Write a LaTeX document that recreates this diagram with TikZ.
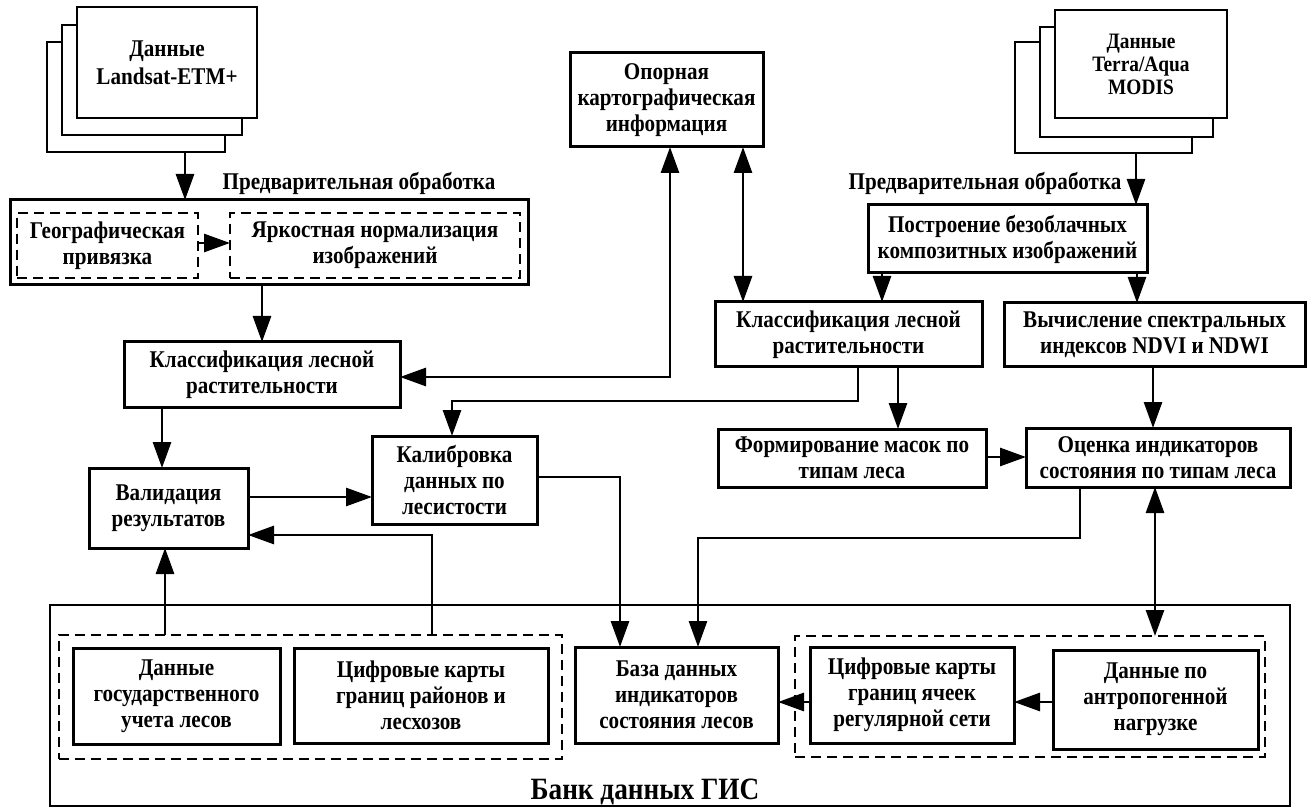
\documentclass[tikz,border=0pt]{standalone}
\usepackage{fontspec}
\setmainfont{Liberation Serif}[FakeStretch=0.88]
\usetikzlibrary{arrows.meta}
\newcommand\mkbox[7][box]{\node[#1, minimum width={#5-#3}, minimum height={#6-#4}] (#2) at ({(#3+#5)/2},{(#4+#6)/2}) {#7};}
\begin{document}
\begin{tikzpicture}[x=1pt,y=-1pt,
  box/.style={draw, line width=3pt, fill=white, inner sep=0pt, outer sep=0pt, align=center,
    font=\bfseries\fontsize{24}{26}\selectfont},
  dbox/.style={box, line width=2.8pt, dash pattern=on 10pt off 6pt, fill=none},
  page/.style={box, line width=2.2pt},
  grp/.style={draw, line width=2.8pt, dash pattern=on 10pt off 6pt, inner sep=0pt, outer sep=0pt},
  bankbox/.style={draw, line width=2.8pt, inner sep=0pt, outer sep=0pt},
  lbl/.style={font=\bfseries\fontsize{24}{26}\selectfont, inner sep=0pt},
  arr/.style={line width=2.8pt, -{Triangle[length=26pt,width=18pt]}},
  arrs/.style={line width=2.8pt, {Triangle[length=26pt,width=18pt]}-{Triangle[length=26pt,width=18pt]}}]
\useasboundingbox (0,0) rectangle (1307,810);
\fill[white] (0,0) rectangle (1307,810);

% Landsat stack
\mkbox[page]{ls3}{47}{42}{225}{152}{}
\mkbox[page]{ls2}{62}{25}{242}{135}{}
\mkbox[page]{ls1}{77}{7}{257}{118}{Данные\\[2pt]Landsat-ETM+}
% MODIS stack
\mkbox[page]{ms3}{1015}{42}{1192}{153}{}
\mkbox[page]{ms2}{1040}{27}{1213}{137}{}
\mkbox[page, font=\bfseries\fontsize{22}{23}\selectfont]{ms1}{1055}{10}{1227}{118}{Данные\\Terra/Aqua\\MODIS}

\node[lbl] (lblL) at (359,183) {Предварительная обработка};
\node[lbl] (lblR) at (985,183) {Предварительная обработка};

% preprocessing left
\mkbox{preL}{10}{200}{528}{285}{}
\mkbox[dbox]{geo}{17}{213}{198}{278}{Географическая\\привязка}
\mkbox[dbox]{yark}{230}{213}{520}{278}{Яркостная нормализация\\изображений}

\mkbox{op}{570}{53}{763}{147}{Опорная\\картографическая\\информация}
\mkbox{post}{868}{205}{1147}{273}{Построение безоблачных\\композитных изображений}
\mkbox{klL}{124}{342}{400}{407}{Классификация лесной\\растительности}
\mkbox{klR}{715}{302}{982}{367}{Классификация лесной\\растительности}
\mkbox{vych}{1004}{303}{1305}{367}{Вычисление спектральных\\индексов NDVI и NDWI}
\mkbox{form}{718}{429}{986}{487}{Формирование масок по\\типам леса}
\mkbox{ocen}{1026}{428}{1290}{487}{Оценка индикаторов\\состояния по типам леса}
\mkbox{val}{89}{468}{248}{548}{Валидация\\результатов}
\mkbox{kal}{372}{436}{537}{524}{Калибровка\\данных по\\лесистости}

% GIS bank
\mkbox[bankbox]{bank}{50}{605}{1290}{806}{}
\node[font=\bfseries\fontsize{31}{32}\selectfont, inner sep=0pt] (banklbl) at (645,792) {Банк данных ГИС};
\mkbox[grp]{dL}{59}{635}{562}{759}{}
\mkbox[grp]{dR}{795}{636}{1265}{757}{}
\mkbox{gos}{73}{648}{280}{744}{Данные\\государственного\\учета лесов}
\mkbox{cifL}{294}{648}{548}{743}{Цифровые карты\\границ районов и\\лесхозов}
\mkbox{baza}{575}{647}{778}{743}{База данных\\индикаторов\\состояния лесов}
\mkbox{cifR}{810}{647}{1014}{743}{Цифровые карты\\границ ячеек\\регулярной сети}
\mkbox{dan}{1053}{650}{1258}{749}{Данные по\\антропогенной\\нагрузке}

% helper coordinates
\coordinate (x185) at (185,0);
\coordinate (x262) at (262,0);
\coordinate (x162) at (162,0);
\coordinate (y497) at (0,497);
\coordinate (y243) at (0,243);
\coordinate (c377) at (670,377);
\coordinate (x743) at (743,0);
\coordinate (x1136) at (1136,0);
\coordinate (x882) at (882,0);
\coordinate (x1137) at (1137,0);
\coordinate (x898) at (898,0);
\coordinate (x1153) at (1153,0);
\coordinate (y457) at (0,457);
\coordinate (k1) at (858,401);
\coordinate (k2) at (452,401);
\coordinate (m1) at (620,477);
\coordinate (n1) at (1080,538);
\coordinate (n2) at (698,538);
\coordinate (x1155) at (1155,0);
\coordinate (x165) at (165,0);
\coordinate (v1) at (432,535);
\coordinate (y702) at (0,702);

% connectors
\draw[arr] (ls3.south -| x185) -- (preL.north -| x185);
\draw[arr] (geo.east |- y243) -- (yark.west |- y243);
\draw[arr] (preL.south -| x262) -- (klL.north -| x262);
\draw[arr] (klL.south -| x162) -- (val.north -| x162);
\draw[arr] (val.east |- y497) -- (kal.west |- y497);
\draw[arrs] (klL.east |- c377) -- (c377) -- (op.south -| c377);
\draw[arrs] (op.south -| x743) -- (klR.north -| x743);
\draw[arr] (ms3.south -| x1136) -- (post.north -| x1136);
\draw[arr] (post.south -| x882) -- (klR.north -| x882);
\draw[arr] (post.south -| x1137) -- (vych.north -| x1137);
\draw[arr] (klR.south -| x898) -- (form.north -| x898);
\draw[arr] (vych.south -| x1153) -- (ocen.north -| x1153);
\draw[arr] (form.east |- y457) -- (ocen.west |- y457);
\draw[arr] (klR.south -| k1) -- (k1) -- (k2) -- (kal.north -| k2);
\draw[arr] (kal.east |- m1) -- (m1) -- (baza.north -| m1);
\draw[arr] (ocen.south -| n1) -- (n1) -- (n2) -- (baza.north -| n2);
\draw[arrs] (ocen.south -| x1155) -- (dR.north -| x1155);
\draw[arr] (dL.north -| x165) -- (val.south -| x165);
\draw[arr] (dL.north -| v1) -- (v1) -- (val.east |- v1);
\draw[arr] (dan.west |- y702) -- (cifR.east |- y702);
\draw[arr] (cifR.west |- y702) -- (baza.east |- y702);
\end{tikzpicture}
\end{document}
